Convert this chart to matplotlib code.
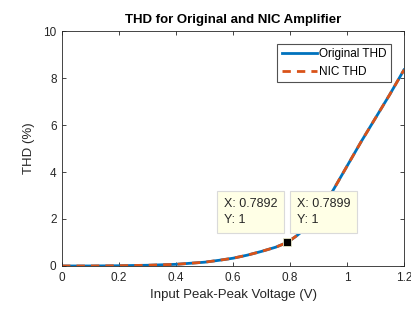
import matplotlib
matplotlib.use("Agg")
import matplotlib.pyplot as plt

plt.rcParams['font.family'] = ['Liberation Sans', 'DejaVu Sans']

# Data
voltage = [0, 0.1, 0.2, 0.3, 0.4, 0.5, 0.55, 0.6, 0.65, 0.7, 0.75, 0.79,
           0.825, 0.85, 0.875, 0.9, 0.925, 0.95, 1.0, 1.05, 1.1, 1.15, 1.2]
thd_original = [0, 0.0, 0.01, 0.03, 0.07, 0.16, 0.24, 0.33, 0.46, 0.62, 0.8, 1.0,
                1.3, 1.55, 1.88, 2.25, 2.7, 3.2, 4.25, 5.3, 6.3, 7.3, 8.35]
thd_nic = [0, 0.0, 0.01, 0.03, 0.07, 0.16, 0.24, 0.33, 0.46, 0.62, 0.8, 1.0,
           1.3, 1.55, 1.88, 2.25, 2.7, 3.2, 4.25, 5.3, 6.3, 7.3, 8.35]
tip_x = [0.7892, 0.7899]
tip_y = [1, 1]

GREY = '#262626'

fig = plt.figure(figsize=(4.11, 3.14), dpi=100)
ax = fig.add_axes([0.151, 0.153, 0.832, 0.748])

ax.plot(voltage, thd_original, color='#0072BD', lw=2, label='Original THD')
ax.plot(voltage, thd_nic, color='#D95319', lw=2, ls=(0, (3, 2.2)), label='NIC THD')

ax.set_xlim(0, 1.2)
ax.set_ylim(0, 10)
ax.set_xticks([0, 0.2, 0.4, 0.6, 0.8, 1, 1.2])
ax.set_xticklabels(['0', '0.2', '0.4', '0.6', '0.8', '1', '1.2'])
ax.set_yticks([0, 2, 4, 6, 8, 10])
ax.tick_params(direction='in', top=True, right=True, length=3, width=0.6,
               colors=GREY, labelsize=8.5, pad=4)
for s in ax.spines.values():
    s.set_color(GREY)
    s.set_linewidth(0.6)

ax.set_xlabel('Input Peak-Peak Voltage (V)', fontsize=9.5, color=GREY, labelpad=4)
ax.set_ylabel('THD (%)', fontsize=9.5, color=GREY, labelpad=6)
ax.set_title('THD for Original and NIC Amplifier', fontsize=9.5, fontweight='bold', pad=6)

leg = ax.legend(loc='upper right', bbox_to_anchor=(0.962, 0.945), fontsize=8.5,
                frameon=True, fancybox=False, handlelength=3.0, handletextpad=0.2,
                borderpad=0.35, labelspacing=0.5, borderaxespad=0)
leg.get_frame().set_edgecolor(GREY)
leg.get_frame().set_linewidth(0.8)

# datatip marker and boxes
ax.plot(tip_x[0], tip_y[0], 's', color='black', ms=6, mec='#E8E8C8', mew=0.6, zorder=5)
offsets = [(-7, 12, 'right'), (7, 12, 'left')]
for (dx, dy, ha), xv, yv in zip(offsets, tip_x, tip_y):
    ax.annotate(f'X: {xv}\nY: {yv}', xy=(xv, yv), xytext=(dx, dy),
                textcoords='offset points', ha=ha, va='bottom', multialignment='left',
                fontsize=9, color=GREY, linespacing=1.45,
                bbox=dict(boxstyle='square,pad=0.55', fc='#FFFFE6', ec='#DADADA', lw=0.8),
                zorder=6)

fig.savefig('out.png', dpi=100)
